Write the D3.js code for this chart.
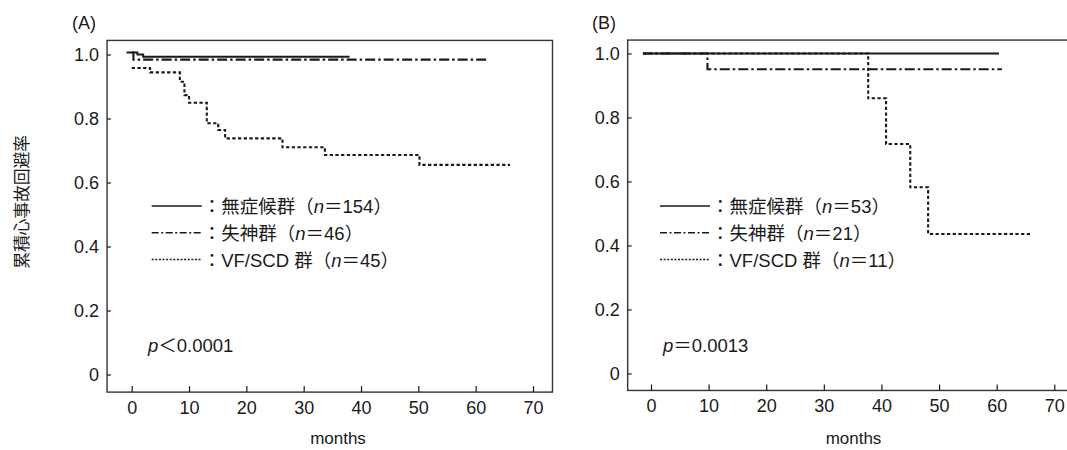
<!DOCTYPE html>
<html>
<head>
<meta charset="utf-8">
<script src="https://cdn.jsdelivr.net/npm/d3@7"></script>
<style>
  body { margin: 0; background: #fff; }
  svg text { fill: #1a1a1a; font-family: "Liberation Sans", Arial, "Noto Sans CJK JP", sans-serif; }
</style>
</head>
<body>
<script>
// step curves: [month, cumulative event-free rate]
const aAsym = [[-0.9, 1.006], [1, 1.0], [2, 0.993], [38, 0.993]];
const aSyncope = [[0, 1.006], [0.3, 0.984], [62, 0.984]];
const aVf = [[0, 0.958], [3.2, 0.944], [8.4, 0.915], [9.2, 0.873], [10, 0.849], [13.1, 0.785],
             [15.1, 0.764], [16.3, 0.738], [26.3, 0.71], [33.7, 0.686], [50.2, 0.655], [66, 0.655]];

const bAsym = [[-1.4, 1.0], [60.4, 1.0]];
const bSyncope = [[-1.4, 1.0], [9.8, 0.951], [60.9, 0.951]];
const bVf = [[-1.4, 1.0], [37.7, 0.86], [40.8, 0.717], [45, 0.582], [48.1, 0.436], [66.1, 0.436]];

const groups = ["無症候群", "失神群", "VF/SCD 群"];
const nA = [154, 46, 45];
const nB = [53, 21, 11];

const xTicks = [0, 10, 20, 30, 40, 50, 60, 70];
const yTicks = [0, 0.2, 0.4, 0.6, 0.8, 1.0];

const width = 1067, height = 450;
const ink = "#1a1a1a";

// line styles per group (solid, dash-dot, dotted)
const dashes = [null, "10,3,2.5,3", "3.3,2.4"];
const legendDashes = [null, "7,2.5,2,2.5", "2,1.6"];

const panels = [
  { label: "(A)", series: [aAsym, aSyncope, aVf], n: nA, pSign: "＜", pVal: "0.0001",
    xr: [131.7, 533], yr: [374.5, 54.5], frame: [-4.3, 73.4, 1.044, -0.055],
    labelX: 72, legX: 151.7, pX: 148, monthsX: 338 },
  { label: "(B)", series: [bAsym, bSyncope, bVf], n: nB, pSign: "＝", pVal: "0.0013",
    xr: [651, 1054.3], yr: [373.5, 53.5], frame: [-4.05, 80, 1.042, -0.053],
    labelX: 592, legX: 660, pX: 663, monthsX: 853.5 }
];

const svg = d3.select("body").append("svg")
  .attr("width", width)
  .attr("height", height);

// y axis title
svg.append("text")
  .attr("transform", "translate(28,202) rotate(-90)")
  .attr("text-anchor", "middle")
  .style("font-family", "'Noto Sans CJK JP', sans-serif")
  .style("font-size", "17px")
  .style("letter-spacing", "-0.3px")
  .text("累積心事故回避率");

panels.forEach(p => {
  const x = d3.scaleLinear().domain([0, 70]).range(p.xr);
  const y = d3.scaleLinear().domain([0, 1]).range(p.yr);
  const g = svg.append("g");

  const [fl, fr, ft, fb] = p.frame;

  // frame
  g.append("rect")
    .attr("x", x(fl)).attr("y", y(ft))
    .attr("width", x(fr) - x(fl)).attr("height", y(fb) - y(ft))
    .attr("fill", "none").attr("stroke", "#333").attr("stroke-width", 1.4);

  // y axis (ticks inside)
  const yAxis = g.append("g")
    .attr("transform", `translate(${x(fl)},0)`)
    .call(d3.axisLeft(y).tickValues(yTicks).tickSizeInner(-4).tickSizeOuter(0).tickPadding(8)
      .tickFormat(d => d === 0 ? "0" : d3.format(".1f")(d)));
  yAxis.select(".domain").remove();
  yAxis.selectAll("line").attr("stroke", ink).attr("stroke-width", 1.2);
  yAxis.selectAll("text").style("font-size", "18px").attr("fill", ink);

  // x axis (ticks inside)
  const xAxis = g.append("g")
    .attr("transform", `translate(0,${y(fb)})`)
    .call(d3.axisBottom(x).tickValues(xTicks).tickSizeInner(-6).tickSizeOuter(0).tickPadding(9));
  xAxis.select(".domain").remove();
  xAxis.selectAll("line").attr("stroke", ink).attr("stroke-width", 1.2);
  xAxis.selectAll("text").style("font-size", "18px").attr("fill", ink);

  // axis title
  g.append("text")
    .attr("x", p.monthsX).attr("y", 444)
    .attr("text-anchor", "middle")
    .style("font-size", "17px")
    .text("months");

  // panel label
  g.append("text")
    .attr("x", p.labelX).attr("y", 29)
    .style("font-size", "18px")
    .text(p.label);

  // survival curves, solid drawn last so it sits on top
  const line = d3.line()
    .x(d => x(d[0]))
    .y(d => y(d[1]))
    .curve(d3.curveStepAfter);

  [2, 1, 0].forEach(i => {
    g.append("path")
      .datum(p.series[i])
      .attr("d", line)
      .attr("fill", "none")
      .attr("stroke", ink)
      .attr("stroke-width", i === 0 ? 2 : 2.1)
      .attr("stroke-dasharray", dashes[i]);
  });

  // legend
  const rowY = [206, 232.8, 259.5];
  groups.forEach((name, i) => {
    g.append("line")
      .attr("x1", p.legX).attr("x2", p.legX + 50)
      .attr("y1", rowY[i]).attr("y2", rowY[i])
      .attr("stroke", ink).attr("stroke-width", 1.5)
      .attr("stroke-dasharray", legendDashes[i]);

    const t = g.append("text")
      .attr("x", p.legX + 51).attr("y", rowY[i] + 7)
      .style("font-size", "18.5px");
    t.append("tspan").style("font-family", "'Noto Sans CJK JP', sans-serif").text("：");
    if (name.startsWith("VF/SCD")) {
      t.append("tspan").text("VF/SCD ");
      t.append("tspan").style("font-family", "'Noto Sans CJK JP', sans-serif").text("群");
    } else {
      t.append("tspan").style("font-family", "'Noto Sans CJK JP', sans-serif").text(name);
    }
    t.append("tspan").style("font-family", "'Noto Sans CJK JP', sans-serif").text("（");
    t.append("tspan").style("font-style", "italic").text("n");
    t.append("tspan").style("font-family", "'Noto Sans CJK JP', sans-serif").text("＝");
    t.append("tspan").text(p.n[i]);
    t.append("tspan").style("font-family", "'Noto Sans CJK JP', sans-serif").text("）");
  });

  // p value
  const pt = g.append("text")
    .attr("x", p.pX).attr("y", 352)
    .style("font-size", "18.5px");
  pt.append("tspan").style("font-style", "italic").text("p");
  pt.append("tspan").style("font-family", "'Noto Sans CJK JP', sans-serif").text(p.pSign);
  pt.append("tspan").text(p.pVal);
});
</script>
</body>
</html>
